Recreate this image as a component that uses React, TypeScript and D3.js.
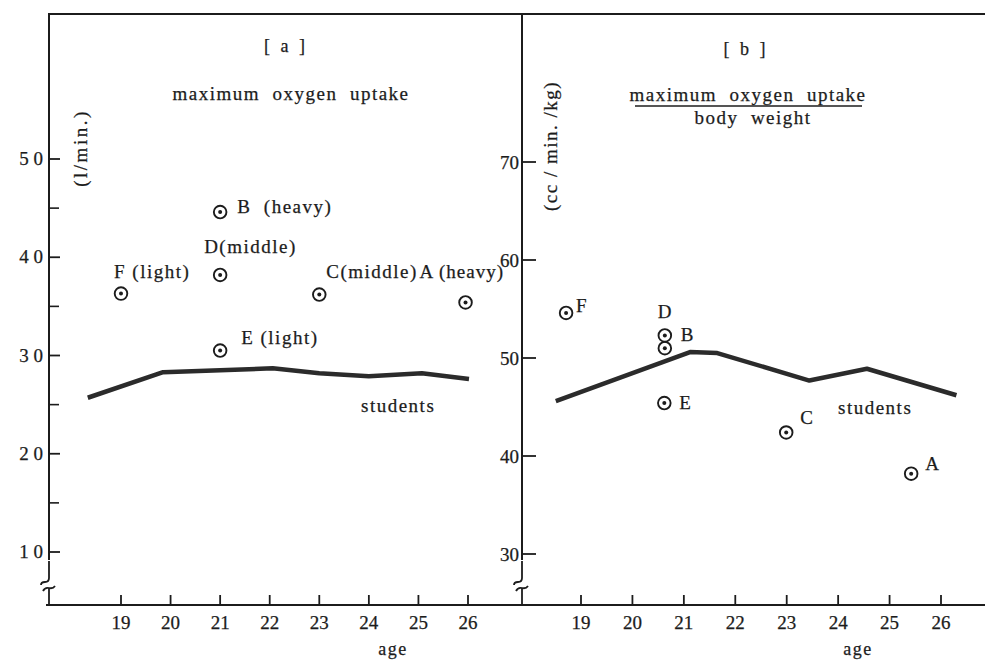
import React from 'react';
import * as d3 from 'd3';

// x categories (age) and y tick values
const ages = [19, 20, 21, 22, 23, 24, 25, 26];
const leftTicks = [1, 2, 3, 4, 5];
const leftTickLabels = ['1 0', '2 0', '3 0', '4 0', '5 0'];
const leftMinorTicks = [1.5, 2.5, 3.5, 4.5];
const rightTicks = [30, 40, 50, 60, 70];

// subjects A..F
const subjects = ['A', 'B', 'C', 'D', 'E', 'F'];
const subjectLabelsA = ['A (heavy)', 'B\u00a0 (heavy)', 'C(middle)', 'D(middle)', 'E (light)', 'F (light)'];
const subjectAgesA = [25.95, 21, 23, 21, 21, 19];
const uptakeA = [3.54, 4.46, 3.62, 3.82, 3.05, 3.63];
const subjectAgesB = [25.42, 20.63, 22.99, 20.63, 20.62, 18.71];
const uptakeB = [38.2, 51.0, 42.4, 52.3, 45.4, 54.6];

// students curve
const studentAgesA = [18.33, 19.85, 21, 22.06, 23, 24, 25.07, 26.02];
const studentUptakeA = [2.57, 2.83, 2.85, 2.87, 2.82, 2.79, 2.82, 2.76];
const studentAgesB = [18.51, 21.12, 21.65, 23.44, 24.56, 26.3];
const studentUptakeB = [45.6, 50.6, 50.5, 47.7, 48.9, 46.2];

// label offsets from marker centre (layout only)
const labelOffsetA: [number, number][] = [[-46, -24], [17, 1], [7, -17], [-16, -22], [21, -7], [-7, -16]];
const labelOffsetB: [number, number][] = [[14, -4], [16, -7], [14, -8], [-7, -17], [15, 6], [10, -1]];

const W = 985;
const H = 662;
const ink = '#1c1c1c';
const font = '"Liberation Serif", "Times New Roman", serif';
const baseY = 605;

const xA = d3.scaleLinear().domain([19, 26]).range([121, 468]);
const yA = d3.scaleLinear().domain([1, 5]).range([552, 159]);
const xB = d3.scaleLinear().domain([19, 26]).range([581, 941]);
const yB = d3.scaleLinear().domain([30, 70]).range([554, 162]);

const Marker = ({ cx, cy }: { cx: number; cy: number }) => (
  <g>
    <circle cx={cx} cy={cy} r={6.3} fill="white" stroke={ink} strokeWidth={1.9} />
    <circle cx={cx} cy={cy} r={2} fill={ink} />
  </g>
);

const Break = ({ x, y }: { x: number; y: number }) => (
  <g fill="none" stroke={ink} strokeWidth={1.8}>
    <path d={`M${x},${y - 20} L${x},${y - 3} Q${x},${y + 1} ${x - 4},${y + 1} Q${x - 8},${y + 1} ${x - 8},${y + 4}`} />
    <path d={`M${x - 6},${y + 10} Q${x - 4},${y + 6} ${x},${y + 7} Q${x + 4},${y + 8} ${x + 6},${y + 5}`} />
    <path d={`M${x},${y + 7} L${x},${baseY}`} />
  </g>
);

const App: React.FC = () => {
  const lineA = d3
    .line<number>()
    .x((_, i) => xA(studentAgesA[i]))
    .y((d) => yA(d));
  const lineB = d3
    .line<number>()
    .x((_, i) => xB(studentAgesB[i]))
    .y((d) => yB(d));

  // slight stroke to mimic the heavier print
  const txt = {
    fontFamily: font,
    fill: ink,
    stroke: ink,
    strokeWidth: 0.25,
    letterSpacing: '1.5px',
  } as React.CSSProperties;

  return (
    <svg
      width={W}
      height={H}
      viewBox={`0 0 ${W} ${H}`}
      style={{ position: 'absolute', left: 0, top: 0, background: 'white' }}
    >
      <rect width={W} height={H} fill="white" />

      {/* frame */}
      <line x1={49} y1={14} x2={W} y2={14} stroke={ink} strokeWidth={2} />
      <line x1={49} y1={13} x2={49} y2={560} stroke={ink} strokeWidth={2} />
      <line x1={522} y1={14} x2={522} y2={560} stroke={ink} strokeWidth={2} />
      <Break x={49} y={581} />
      <Break x={522} y={581} />
      <line x1={46} y1={baseY} x2={W} y2={baseY} stroke={ink} strokeWidth={2} />

      {/* left y ticks */}
      {leftTicks.map((t, i) => (
        <g key={`la${t}`}>
          <line x1={49} x2={60} y1={yA(t)} y2={yA(t)} stroke={ink} strokeWidth={1.8} />
          <text x={43} y={yA(t) + 6} textAnchor="end" fontSize={19} style={{ ...txt, letterSpacing: 0 }}>
            {leftTickLabels[i]}
          </text>
        </g>
      ))}
      {leftMinorTicks.map((t) => (
        <line key={`lm${t}`} x1={49} x2={59} y1={yA(t)} y2={yA(t)} stroke={ink} strokeWidth={1.6} />
      ))}

      {/* right y ticks */}
      {rightTicks.map((t) => (
        <g key={`rb${t}`}>
          <line x1={522} x2={536} y1={yB(t)} y2={yB(t)} stroke={ink} strokeWidth={1.8} />
          <text x={519} y={yB(t) + 7} textAnchor="end" fontSize={19} style={{ ...txt, letterSpacing: 0 }}>
            {t}
          </text>
        </g>
      ))}

      {/* x ticks */}
      {ages.map((a) => (
        <g key={`xa${a}`}>
          <line x1={xA(a)} x2={xA(a)} y1={baseY - 10} y2={baseY} stroke={ink} strokeWidth={1.8} />
          <text x={xA(a)} y={629} textAnchor="middle" fontSize={19} style={{ ...txt, letterSpacing: 0 }}>
            {a}
          </text>
          <line x1={xB(a)} x2={xB(a)} y1={baseY - 10} y2={baseY} stroke={ink} strokeWidth={1.8} />
          <text x={xB(a)} y={629} textAnchor="middle" fontSize={19} style={{ ...txt, letterSpacing: 0 }}>
            {a}
          </text>
        </g>
      ))}
      <text x={393} y={655} textAnchor="middle" fontSize={18} style={txt}>age</text>
      <text x={858} y={655} textAnchor="middle" fontSize={18} style={txt}>age</text>

      {/* panel titles */}
      <text x={286} y={52} textAnchor="middle" fontSize={18} style={{ ...txt, letterSpacing: '3px' }}>[ a ]</text>
      <text x={291} y={100} textAnchor="middle" fontSize={19} style={txt} xmlSpace="preserve">maximum  oxygen  uptake</text>
      <text x={746} y={55} textAnchor="middle" fontSize={18} style={{ ...txt, letterSpacing: '3px' }}>[ b ]</text>
      <text x={748} y={101} textAnchor="middle" fontSize={19} style={txt} xmlSpace="preserve">maximum  oxygen  uptake</text>
      <line x1={635} x2={862} y1={106} y2={106} stroke={ink} strokeWidth={1.3} />
      <text x={753} y={124} textAnchor="middle" fontSize={19} style={txt} xmlSpace="preserve">body  weight</text>

      {/* unit labels */}
      <text transform="translate(87,148) rotate(-90)" textAnchor="middle" fontSize={19} style={{ ...txt, letterSpacing: '2.5px' }}>(l/min.)</text>
      <text transform="translate(557,146) rotate(-90)" textAnchor="middle" fontSize={19} style={txt} xmlSpace="preserve">(cc / min. /kg)</text>

      {/* students */}
      <path d={lineA(studentUptakeA) || ''} fill="none" stroke="#2b2b2b" strokeWidth={4.5} strokeLinejoin="round" />
      <path d={lineB(studentUptakeB) || ''} fill="none" stroke="#2b2b2b" strokeWidth={4.5} strokeLinejoin="round" />
      <text x={361} y={412} fontSize={19} style={txt}>students</text>
      <text x={838} y={414} fontSize={19} style={txt}>students</text>

      {/* subjects panel a */}
      {subjects.map((s, i) => {
        const cx = xA(subjectAgesA[i]);
        const cy = yA(uptakeA[i]);
        return (
          <g key={`pa${s}`}>
            <Marker cx={cx} cy={cy} />
            <text
              x={cx + labelOffsetA[i][0]}
              y={cy + labelOffsetA[i][1]}
              fontSize={19}
              style={s === 'A' ? { ...txt, letterSpacing: '1px' } : txt}
            >
              {subjectLabelsA[i]}
            </text>
          </g>
        );
      })}

      {/* subjects panel b */}
      {subjects.map((s, i) => {
        const cx = xB(subjectAgesB[i]);
        const cy = yB(uptakeB[i]);
        return (
          <g key={`pb${s}`}>
            <Marker cx={cx} cy={cy} />
            <text x={cx + labelOffsetB[i][0]} y={cy + labelOffsetB[i][1]} fontSize={19} style={txt}>
              {s}
            </text>
          </g>
        );
      })}
    </svg>
  );
};

export default App;
